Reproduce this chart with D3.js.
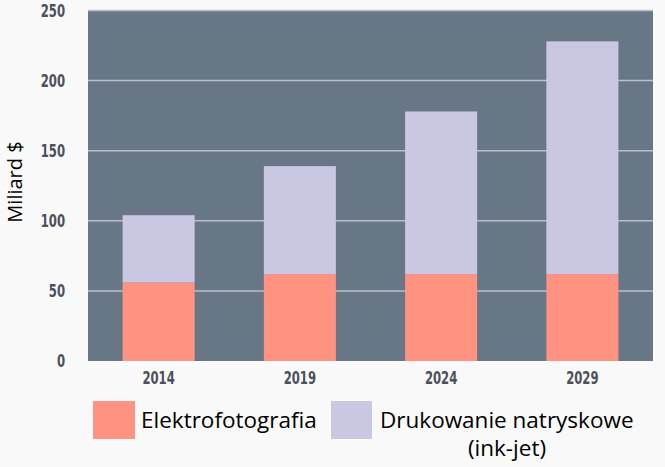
<!DOCTYPE html>
<html>
<head>
<meta charset="utf-8">
<script src="https://cdn.jsdelivr.net/npm/d3@7/dist/d3.min.js"></script>
<style>
  body { margin: 0; background: #f9f9f9; }
</style>
</head>
<body>
<svg id="chart" width="665" height="467"></svg>
<script>
// data (billion $)
const years = ["2014", "2019", "2024", "2029"];
const electro = [56, 62, 62, 62];
const inkjet = [48, 77, 116, 166];
const yTicks = [0, 50, 100, 150, 200, 250];
const seriesNames = ["Elektrofotografia", "Drukowanie natryskowe"];

const colour = {
  bg: "#f9f9f9",
  plot: "#687786",
  grid: "#b9c0c7",
  electro: "#ff9281",
  inkjet: "#c9c7e1",
  tick: "#4b505d"
};

const svg = d3.select("#chart");
const plotLeft = 88, plotRight = 653, plotTop = 10.5, plotBottom = 361;

const x = d3.scaleBand()
  .domain(years)
  .range([plotLeft, plotRight])
  .paddingInner(0.49)
  .paddingOuter(0.245);

const y = d3.scaleLinear()
  .domain([0, 250])
  .range([plotBottom, plotTop]);

// plot background
svg.append("rect")
  .attr("x", plotLeft)
  .attr("y", plotTop)
  .attr("width", plotRight - plotLeft)
  .attr("height", plotBottom - plotTop)
  .attr("fill", colour.plot);

// grid lines
svg.append("g")
  .selectAll("line")
  .data(yTicks.filter(d => d > 0))
  .join("line")
  .attr("x1", plotLeft)
  .attr("x2", plotRight)
  .attr("y1", d => y(d))
  .attr("y2", d => y(d))
  .attr("stroke", colour.grid)
  .attr("stroke-width", 1.5);

// stacked bars
const rows = years.map((yr, i) => ({ year: yr, electro: electro[i], inkjet: inkjet[i] }));
const stack = d3.stack().keys(["electro", "inkjet"])(rows);

svg.append("g")
  .selectAll("g")
  .data(stack)
  .join("g")
  .attr("fill", d => colour[d.key])
  .selectAll("rect")
  .data(d => d)
  .join("rect")
  .attr("x", d => x(d.data.year))
  .attr("y", d => y(d[1]))
  .attr("width", x.bandwidth())
  .attr("height", d => y(d[0]) - y(d[1]));

// axes
const yAxis = svg.append("g")
  .attr("transform", "translate(" + (plotLeft - 23) + ",0)")
  .call(d3.axisLeft(y).tickValues(yTicks).tickSize(0).tickPadding(0));
yAxis.select(".domain").remove();

const xAxis = svg.append("g")
  .attr("transform", "translate(0," + (plotBottom + 6) + ")")
  .call(d3.axisBottom(x).tickSize(0).tickPadding(0));
xAxis.select(".domain").remove();

// condensed look of the tick labels
svg.selectAll(".tick text")
  .attr("font-family", "'DejaVu Sans Condensed', 'DejaVu Sans', sans-serif")
  .attr("font-weight", "bold")
  .attr("font-size", "18px")
  .attr("transform", "scale(0.72,1)")
  .attr("fill", colour.tick);
xAxis.selectAll(".tick text").attr("dy", "0.95em");

// y axis title
svg.append("text")
  .attr("transform", "translate(22,182) rotate(-90)")
  .attr("text-anchor", "middle")
  .attr("font-family", "'Open Sans', sans-serif")
  .attr("font-size", "20px")
  .attr("fill", "#000")
  .text("Miliard $");

// legend
const legendFont = "'Open Sans', sans-serif";
svg.append("rect")
  .attr("x", 93).attr("y", 401).attr("width", 42).attr("height", 38)
  .attr("fill", colour.electro);
svg.append("text")
  .attr("x", 141).attr("y", 428)
  .attr("font-family", legendFont).attr("font-size", "22.5px").attr("fill", "#000")
  .text(seriesNames[0]);

svg.append("rect")
  .attr("x", 331).attr("y", 401).attr("width", 41).attr("height", 38)
  .attr("fill", colour.inkjet);
svg.append("text")
  .attr("x", 380).attr("y", 428)
  .attr("font-family", legendFont).attr("font-size", "22.5px").attr("fill", "#000")
  .text(seriesNames[1]);
svg.append("text")
  .attr("x", 507).attr("y", 456)
  .attr("text-anchor", "middle")
  .attr("font-family", legendFont).attr("font-size", "22.5px").attr("fill", "#000")
  .text("(ink-jet)");
</script>
</body>
</html>
